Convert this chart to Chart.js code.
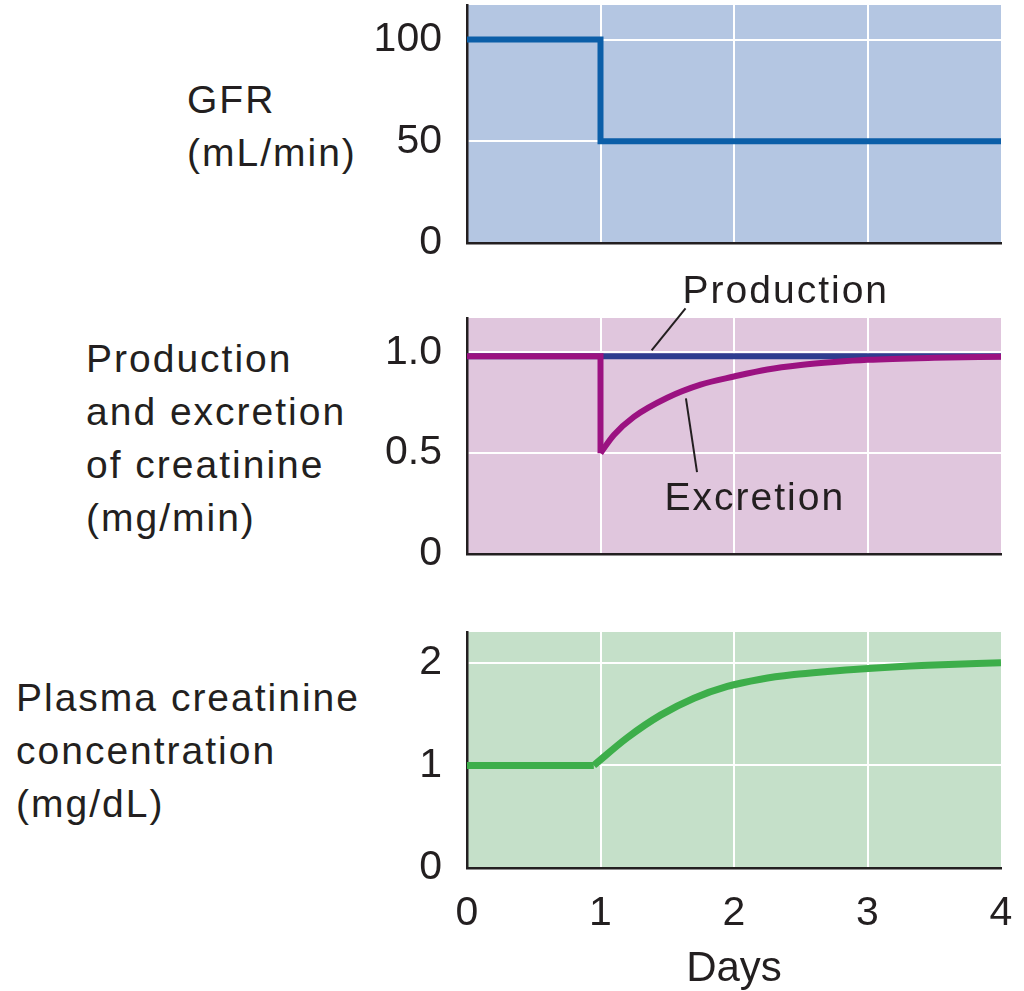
<!DOCTYPE html>
<html>
<head>
<meta charset="utf-8">
<script src="https://cdn.jsdelivr.net/npm/chart.js@4.4.1/dist/chart.umd.min.js"></script>
<style>
  html, body { margin: 0; padding: 0; background: #fff; overflow: hidden; width: 1024px; height: 991px; }
  canvas { position: absolute; left: 0; }
  .lbl {
    position: absolute;
    font-family: "Liberation Sans", Arial, sans-serif;
    font-size: 39px;
    letter-spacing: 2px;
    line-height: 53px;
    color: #231f20;
    white-space: nowrap;
  }
</style>
</head>
<body>
<div class="lbl" style="left:187px; top:73px;">GFR<br>(mL/min)</div>
<div class="lbl" style="left:86px; top:332px;">Production<br>and excretion<br>of creatinine<br>(mg/min)</div>
<div class="lbl" style="left:16px; top:671px;">Plasma creatinine<br>concentration<br>(mg/dL)</div>

<canvas id="gfr" width="1024" height="343" style="top:-50px"></canvas>
<canvas id="creat" width="1024" height="349" style="top:255px"></canvas>
<canvas id="plasma" width="1024" height="420" style="top:580px"></canvas>

<script>
// shared x axis
var dayTicks = [0, 1, 2, 3, 4];

// GFR (mL/min)
var gfrDays = [0, 1, 1, 4];
var gfrValues = [100, 100, 50, 50];
var gfrTicks = [0, 50, 100];
var gfrTickLabels = ['0', '50', '100'];

// creatinine production / excretion (mg/min)
var productionDays = [0, 4];
var productionValues = [0.98, 0.98];
var excretionDropDays = [0, 1, 1];
var excretionDropValues = [0.98, 0.98, 0.5];
var excretionDays = [1, 1.1, 1.25, 1.5, 1.75, 2, 2.25, 2.5, 2.75, 3, 3.5, 4];
var excretionValues = [0.5, 0.59, 0.68, 0.775, 0.84, 0.88, 0.915, 0.937, 0.952, 0.963, 0.973, 0.978];
var creatTicks = [0, 0.5, 1.0];
var creatTickLabels = ['0', '0.5', '1.0'];

// plasma creatinine (mg/dL)
var plasmaFlatDays = [0, 0.95];
var plasmaFlatValues = [1, 1];
var plasmaDays = [0.95, 1.2, 1.45, 1.7, 1.95, 2.2, 2.45, 2.7, 2.95, 3.45, 4];
var plasmaValues = [1, 1.27, 1.49, 1.655, 1.77, 1.84, 1.885, 1.915, 1.94, 1.975, 2.0];
var plasmaTicks = [0, 1, 2];
var plasmaTickLabels = ['0', '1', '2'];

var ink = '#231f20';
var tickFont = { family: 'Liberation Sans', size: 41 };

function pts(xs, ys) {
  var out = [];
  for (var i = 0; i < xs.length; i++) out.push({ x: xs[i], y: ys[i] });
  return out;
}

var panelBg = {
  id: 'panelBg',
  beforeDraw: function (chart, args, opts) {
    var a = chart.chartArea, ctx = chart.ctx;
    ctx.save();
    ctx.fillStyle = opts.color;
    ctx.fillRect(a.left, a.top, a.right - a.left, a.bottom - a.top);
    ctx.restore();
  }
};

var callouts = {
  id: 'callouts',
  afterDatasetsDraw: function (chart, args, opts) {
    var ctx = chart.ctx, xs = chart.scales.x, ys = chart.scales.y;
    ctx.save();
    ctx.strokeStyle = ink;
    ctx.lineWidth = 2;
    ctx.fillStyle = ink;
    ctx.font = '39px "Liberation Sans"';
    ctx.letterSpacing = '2px';
    ctx.textBaseline = 'alphabetic';
    ctx.textAlign = 'left';
    (opts.items || []).forEach(function (c) {
      ctx.beginPath();
      ctx.moveTo(xs.getPixelForValue(c.from[0]), ys.getPixelForValue(c.from[1]));
      ctx.lineTo(xs.getPixelForValue(c.to[0]), ys.getPixelForValue(c.to[1]));
      ctx.stroke();
      ctx.fillText(c.text, xs.getPixelForValue(c.at[0]), ys.getPixelForValue(c.at[1]));
    });
    ctx.restore();
  }
};

function makePanel(id, opts) {
  var yTicks = opts.yTicks, yLabels = opts.yLabels;
  return new Chart(document.getElementById(id), {
    type: 'line',
    data: { datasets: opts.datasets },
    plugins: [panelBg, callouts],
    options: {
      responsive: false,
      animation: false,
      devicePixelRatio: 1,
      layout: { padding: { left: 0, right: 23, top: opts.padTop, bottom: opts.padBottom } },
      elements: { point: { radius: 0 }, line: { borderJoinStyle: 'miter', borderCapStyle: 'butt' } },
      plugins: {
        legend: { display: false },
        tooltip: { enabled: false },
        panelBg: { color: opts.bg },
        callouts: { items: opts.callouts || [] }
      },
      scales: {
        x: {
          type: 'linear',
          min: 0,
          max: 4,
          afterBuildTicks: function (s) { s.ticks = dayTicks.map(function (v) { return { value: v }; }); },
          afterFit: function (s) {
            s.height = opts.xHeight;
            s.paddingLeft = 0;
            s.paddingRight = 0;
          },
          border: { display: true, color: ink, width: 2.5 },
          grid: {
            drawTicks: false,
            lineWidth: 2,
            color: function (c) { return (c.tick && (c.tick.value === 0 || c.tick.value === 4)) ? 'rgba(0,0,0,0)' : '#ffffff'; }
          },
          ticks: {
            display: opts.showX,
            maxRotation: 0,
            autoSkip: false,
            padding: 21,
            color: ink,
            font: tickFont
          },
          title: {
            display: opts.showX,
            text: 'Days',
            color: ink,
            font: { family: 'Liberation Sans', size: 42 },
            padding: { top: 0, bottom: 5 }
          }
        },
        y: {
          min: 0,
          max: opts.yMax,
          afterBuildTicks: function (s) { s.ticks = yTicks.map(function (v) { return { value: v }; }); },
          afterFit: function (s) { s.width = 467; },
          border: { display: true, color: ink, width: 2.5 },
          grid: {
            drawTicks: false,
            lineWidth: 2,
            color: function (c) { return (c.tick && c.tick.value === 0) ? 'rgba(0,0,0,0)' : '#ffffff'; }
          },
          ticks: {
            padding: 25,
            color: ink,
            font: tickFont,
            callback: function (v) {
              var i = yTicks.indexOf(v);
              return i >= 0 ? yLabels[i] : '';
            }
          }
        }
      }
    }
  });
}

makePanel('gfr', {
  bg: '#b4c6e2',
  yMax: 117,
  yTicks: gfrTicks,
  yLabels: gfrTickLabels,
  padTop: 55,
  padBottom: 50,
  xHeight: 0,
  showX: false,
  datasets: [{
    data: pts(gfrDays, gfrValues),
    borderColor: '#0b5ea8',
    borderWidth: 6,
    tension: 0
  }]
});

makePanel('creat', {
  bg: '#e0c6dd',
  yMax: 1.17,
  yTicks: creatTicks,
  yLabels: creatTickLabels,
  padTop: 63,
  padBottom: 50,
  xHeight: 0,
  showX: false,
  callouts: [
    { text: 'Production', from: [1.383, 1.01], to: [1.637, 1.218], at: [1.615, 1.243] },
    { text: 'Excretion', from: [1.64, 0.772], to: [1.723, 0.406], at: [1.48, 0.218] }
  ],
  datasets: [
    {
      data: pts(excretionDropDays, excretionDropValues),
      borderColor: '#9b1281',
      borderWidth: 6,
      tension: 0
    },
    {
      data: pts(excretionDays, excretionValues),
      borderColor: '#9b1281',
      borderWidth: 6,
      cubicInterpolationMode: 'monotone'
    },
    {
      data: pts(productionDays, productionValues),
      borderColor: '#2e3d8f',
      borderWidth: 6,
      tension: 0
    }
  ]
});

makePanel('plasma', {
  bg: '#c5e0c9',
  yMax: 2.3,
  yTicks: plasmaTicks,
  yLabels: plasmaTickLabels,
  padTop: 52,
  padBottom: 0,
  xHeight: 132,
  showX: true,
  datasets: [
    {
      data: pts(plasmaFlatDays, plasmaFlatValues),
      borderColor: '#3dae4a',
      borderWidth: 7,
      tension: 0
    },
    {
      data: pts(plasmaDays, plasmaValues),
      borderColor: '#3dae4a',
      borderWidth: 7,
      cubicInterpolationMode: 'monotone'
    }
  ]
});
</script>
</body>
</html>
